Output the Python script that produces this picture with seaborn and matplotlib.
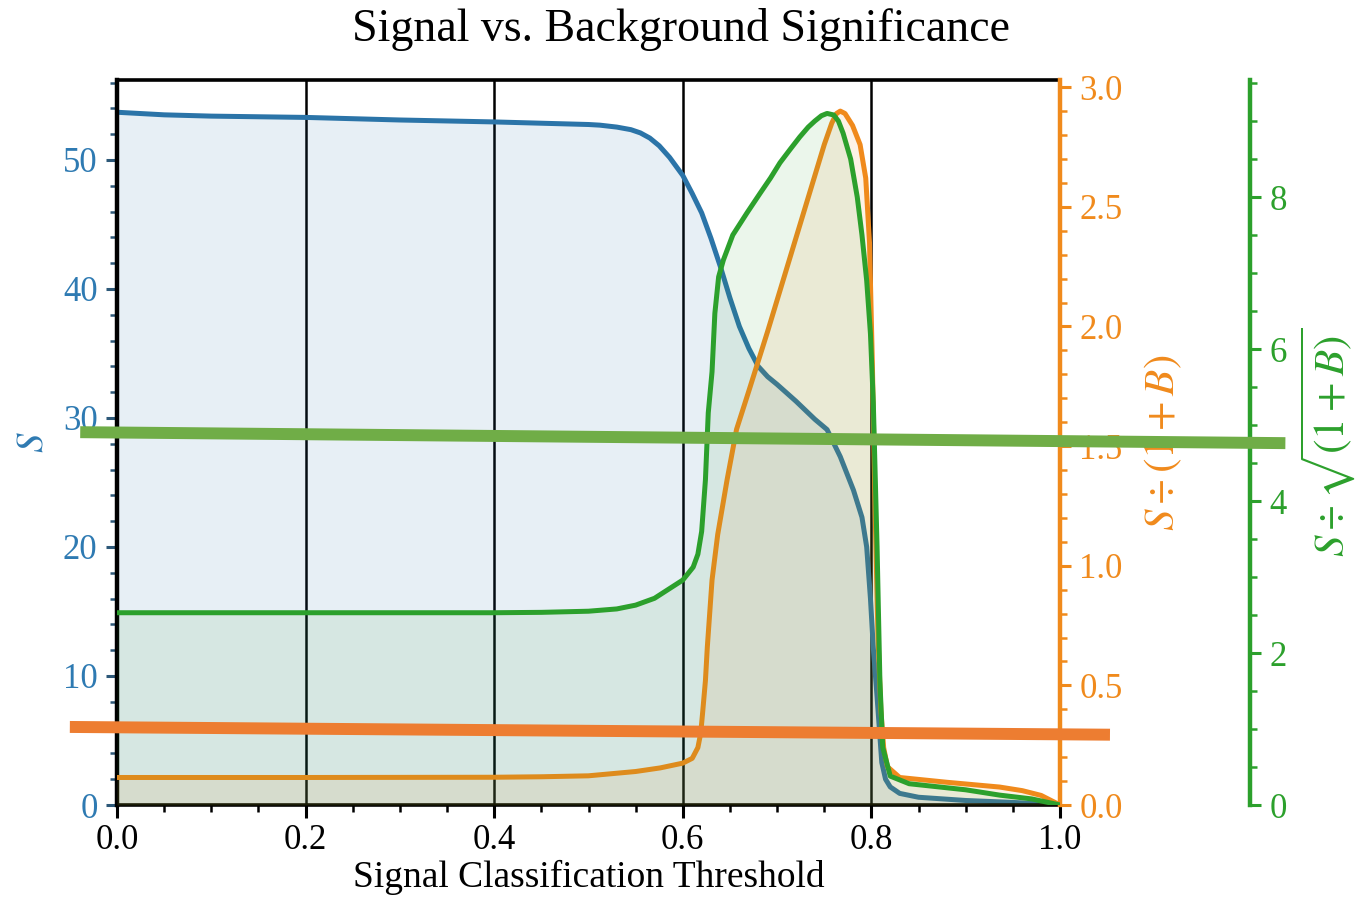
import numpy as np
import pandas as pd
import seaborn as sns
import matplotlib
matplotlib.use("Agg")
import matplotlib.pyplot as plt
from matplotlib.lines import Line2D
from matplotlib.ticker import MultipleLocator

# ---------------- data ----------------
blue_x = [0.00, 0.05, 0.10, 0.20, 0.30, 0.40, 0.45, 0.50, 0.512, 0.53, 0.545, 0.555, 0.565,
          0.575, 0.586, 0.60, 0.61, 0.62, 0.63, 0.64, 0.65, 0.66, 0.67, 0.68, 0.69, 0.70,
          0.72, 0.74, 0.753, 0.767, 0.781, 0.79, 0.795, 0.799, 0.802, 0.806, 0.811, 0.815,
          0.82, 0.83, 0.85, 0.90, 0.95, 1.00]
blue_s = [53.7, 53.5, 53.4, 53.3, 53.1, 52.95, 52.85, 52.75, 52.7, 52.55, 52.35, 52.1, 51.7,
          51.1, 50.2, 48.8, 47.4, 45.9, 43.9, 41.7, 39.3, 37.1, 35.4, 34.0, 33.2, 32.6,
          31.3, 29.9, 29.1, 27.0, 24.4, 22.3, 20.0, 16.0, 12.2, 8.4, 3.3, 2.0,
          1.4, 0.9, 0.6, 0.35, 0.2, 0.0]

orange_x = [0.00, 0.20, 0.40, 0.45, 0.50, 0.55, 0.576, 0.60, 0.610, 0.616, 0.619, 0.621,
            0.624, 0.626, 0.631, 0.637, 0.647, 0.657, 0.67, 0.69, 0.71, 0.73, 0.75,
            0.758, 0.763, 0.767, 0.772, 0.780, 0.788, 0.794, 0.798, 0.801, 0.804, 0.807,
            0.810, 0.813, 0.817, 0.83, 0.88, 0.936, 0.96, 0.98, 1.00]
orange_r = [0.115, 0.115, 0.116, 0.118, 0.122, 0.14, 0.155, 0.175, 0.195, 0.24, 0.30, 0.385,
            0.52, 0.66, 0.94, 1.13, 1.36, 1.57, 1.73, 1.98, 2.24, 2.50, 2.76,
            2.85, 2.89, 2.90, 2.89, 2.84, 2.76, 2.62, 2.35, 1.85, 1.22, 0.70,
            0.40, 0.24, 0.16, 0.115, 0.095, 0.075, 0.06, 0.04, 0.0]

green_x = [0.00, 0.20, 0.40, 0.45, 0.50, 0.53, 0.55, 0.57, 0.58, 0.59, 0.60, 0.611, 0.616,
           0.620, 0.624, 0.627, 0.631, 0.634, 0.638, 0.643, 0.653, 0.668, 0.682, 0.693,
           0.703, 0.714, 0.724, 0.733, 0.74, 0.747, 0.753, 0.760, 0.765, 0.770, 0.778,
           0.785, 0.790, 0.795, 0.799, 0.802, 0.806, 0.809, 0.812, 0.82,
           0.84, 0.90, 0.936, 0.97, 1.00]
green_r = [2.53, 2.53, 2.53, 2.535, 2.55, 2.58, 2.63, 2.72, 2.80, 2.88, 2.96, 3.13, 3.3,
           3.6, 4.28, 5.16, 5.7, 6.47, 6.95, 7.17, 7.5, 7.79, 8.05, 8.25,
           8.45, 8.63, 8.79, 8.92, 9.0, 9.07, 9.1, 9.08, 9.0, 8.84, 8.5,
           8.0, 7.5, 6.9, 6.2, 5.3, 3.4, 1.64, 0.76, 0.38,
           0.28, 0.2, 0.13, 0.08, 0.0]

x_ticks = [0.0, 0.2, 0.4, 0.6, 0.8, 1.0]
left_ticks = [0, 10, 20, 30, 40, 50]
orange_ticks = [0.0, 0.5, 1.0, 1.5, 2.0, 2.5, 3.0]
green_ticks = [0, 2, 4, 6, 8]

# overlay annotation strokes (in left-axis data units)
green_mark_x = [-0.039, 1.239]
green_mark_y = [28.9, 28.05]
orange_mark_x = [-0.050, 1.053]
orange_mark_y = [6.05, 5.45]

title = "Signal vs. Background Significance"
xlabel = "Signal Classification Threshold"

# ---------------- style ----------------
sns.set_style("ticks")
plt.rcParams["font.family"] = ["Liberation Serif", "DejaVu Serif"]
plt.rcParams["mathtext.fontset"] = "stix"

C_BLUE = "#2b74a8"
C_BLUE_TXT = "#2e7ab2"
C_ORANGE = "#f08a1c"
C_GREEN = "#2ca02c"

fig = plt.figure(figsize=(13.61, 8.99), dpi=100)
ax = fig.add_axes([117 / 1361, 1 - 805 / 899, (1060 - 117) / 1361, (805 - 80) / 899])
ax2 = ax.twinx()
ax3 = ax.twinx()
ax3.spines["right"].set_position(("axes", (1250 - 117) / (1060 - 117)))

df_b = pd.DataFrame({"x": blue_x, "y": blue_s})
df_o = pd.DataFrame({"x": orange_x, "y": orange_r})
df_g = pd.DataFrame({"x": green_x, "y": green_r})

LW = 3.6
ax.fill_between(df_b["x"], 0, df_b["y"], color=C_BLUE, alpha=0.11, lw=0)
sns.lineplot(data=df_b, x="x", y="y", ax=ax, color=C_BLUE, linewidth=LW, sort=False)
ax2.fill_between(df_o["x"], 0, df_o["y"], color=C_ORANGE, alpha=0.11, lw=0)
sns.lineplot(data=df_o, x="x", y="y", ax=ax2, color=C_ORANGE, linewidth=LW, sort=False)
ax3.fill_between(df_g["x"], 0, df_g["y"], color=C_GREEN, alpha=0.09, lw=0)
sns.lineplot(data=df_g, x="x", y="y", ax=ax3, color=C_GREEN, linewidth=LW, sort=False)
for a in (ax, ax2, ax3):
    for ln in a.get_lines():
        ln.set_linewidth(LW)
        ln.set_solid_joinstyle("round")

# limits
ax.set_xlim(0, 1.0)
ax.set_ylim(0, 56.2)
ax2.set_ylim(0, 3.03)
ax3.set_ylim(0, 9.54)

# grid (vertical black lines)
ax.set_xticks(x_ticks)
ax.xaxis.set_minor_locator(MultipleLocator(0.05))
ax.grid(axis="x", which="major", color="black", lw=1.8)
ax.grid(axis="y", visible=False)

# spines
for a in (ax, ax2, ax3):
    for s in a.spines.values():
        s.set_visible(False)
ax.spines["left"].set_visible(True)
ax.spines["left"].set_color("black")
ax.spines["left"].set_linewidth(3.2)
ax.spines["bottom"].set_visible(True)
ax.spines["bottom"].set_color("black")
ax.spines["bottom"].set_linewidth(2.6)
ax.spines["top"].set_visible(True)
ax.spines["top"].set_color("black")
ax.spines["top"].set_linewidth(2.6)
ax2.spines["right"].set_visible(True)
ax2.spines["right"].set_color(C_ORANGE)
ax2.spines["right"].set_linewidth(3.2)
ax3.spines["right"].set_visible(True)
ax3.spines["right"].set_color(C_GREEN)
ax3.spines["right"].set_linewidth(3.2)

# ticks
TICK_FS = 25
ax.set_yticks(left_ticks)
ax.yaxis.set_minor_locator(MultipleLocator(2))
ax.tick_params(axis="x", which="major", direction="out", length=9, width=2.2,
               color="black", labelsize=TICK_FS, labelcolor="black", pad=5)
ax.tick_params(axis="x", which="minor", direction="out", length=5, width=1.8, color="black")
ax.tick_params(axis="y", which="major", direction="out", length=8, width=2.2,
               color="#2d5878", labelsize=TICK_FS, labelcolor=C_BLUE_TXT, pad=6)
ax.tick_params(axis="y", which="minor", direction="out", length=5, width=1.8, color="#2d5878")

ax2.set_yticks(orange_ticks)
ax2.yaxis.set_minor_locator(MultipleLocator(0.1))
ax2.tick_params(axis="y", which="major", direction="out", length=8, width=2.2,
                color=C_ORANGE, labelsize=TICK_FS, labelcolor=C_ORANGE, pad=6)
ax2.tick_params(axis="y", which="minor", direction="out", length=5, width=1.8, color=C_ORANGE)

ax3.set_yticks(green_ticks)
ax3.yaxis.set_minor_locator(MultipleLocator(0.5))
ax3.tick_params(axis="y", which="major", direction="out", length=8, width=2.2,
                color=C_GREEN, labelsize=TICK_FS, labelcolor=C_GREEN, pad=6)
ax3.tick_params(axis="y", which="minor", direction="out", length=5, width=1.8, color=C_GREEN)

# labels
ax.set_xlabel(xlabel, fontsize=27, color="black", labelpad=2)
ax.set_ylabel("$S$", fontsize=28, color=C_BLUE_TXT, labelpad=8)
ax2.set_ylabel(r"$S \div (1 + B)$", fontsize=31, color=C_ORANGE, labelpad=14)
ax3.set_ylabel(r"$S \div \sqrt{(1 + B)}$", fontsize=31, color=C_GREEN, labelpad=8)
fig.text(0.5, 1 - 41 / 899, title, ha="center", va="baseline", fontsize=33, color="black")

# overlay strokes on top of everything
fig.add_artist(Line2D(green_mark_x, green_mark_y, transform=ax.transData,
                      color="#70ad47", lw=8.6, solid_capstyle="butt", zorder=10))
fig.add_artist(Line2D(orange_mark_x, orange_mark_y, transform=ax.transData,
                      color="#ed7d31", lw=8.6, solid_capstyle="butt", zorder=10))

fig.savefig("out.png", dpi=100)
